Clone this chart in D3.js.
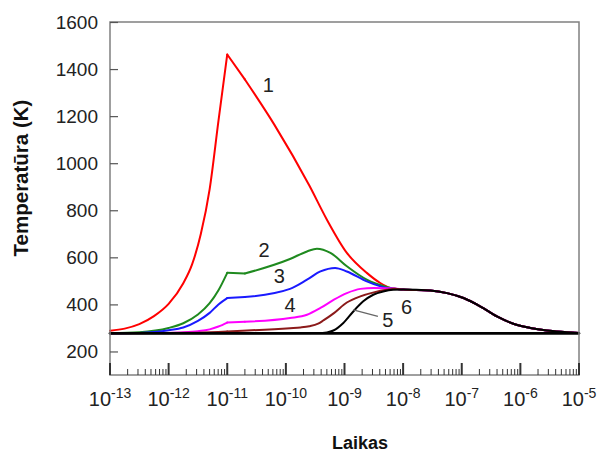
<!DOCTYPE html>
<html>
<head>
<meta charset="utf-8">
<script src="https://cdn.jsdelivr.net/npm/d3@7"></script>
<style>
  html, body { margin: 0; padding: 0; background: #fff; }
  svg { display: block; font-family: 'Liberation Sans', Arial, sans-serif; }
</style>
</head>
<body>
<div id="chart"></div>
<script>
// Points are [log10(time, s), temperature K]
const T0 = 277;
const X_DECADES = [-13, -12, -11, -10, -9, -8, -7, -6, -5];
const Y_TICKS = [200, 400, 600, 800, 1000, 1200, 1400, 1600];
const BREAKS = [-11, -10.7]; // sharp corners in curves 1-4

// common cooling tail after ~1e-8 s
const TAIL = [[-8.0, 463], [-7.54, 459], [-7.25, 448], [-6.97, 427], [-6.68, 391],
  [-6.4, 349], [-6.12, 318], [-5.83, 300], [-5.55, 289], [-5.21, 282], [-5.0, 278]];

const curve1 = [[-13, 288], [-12.75, 297], [-12.5, 316], [-12.25, 350], [-12.0, 402],
  [-11.75, 490], [-11.6, 570], [-11.45, 700], [-11.3, 890], [-11.15, 1180], [-11.0, 1462],
  [-10.7, 1356], [-10.2, 1165], [-9.6, 905], [-9.3, 760], [-8.96, 619], [-8.62, 534],
  [-8.39, 491], [-8.22, 470], [-8.1, 465]];
const curve2 = [[-13, 278], [-12.5, 282], [-12.0, 300], [-11.75, 320], [-11.5, 357],
  [-11.3, 405], [-11.15, 460], [-11.0, 534], [-10.7, 531], [-9.93, 593], [-9.64, 625],
  [-9.47, 637], [-9.24, 619], [-8.96, 562], [-8.62, 505], [-8.28, 474], [-8.14, 466]];
const curve3 = [[-13, 277], [-12.5, 279], [-12.0, 290], [-11.75, 302], [-11.5, 330],
  [-11.3, 364], [-11.15, 400], [-11.0, 427], [-10.7, 431], [-9.93, 466], [-9.64, 505],
  [-9.41, 540], [-9.16, 555], [-8.96, 540], [-8.62, 498], [-8.28, 470], [-8.14, 466]];
const curve4 = [[-13, 277], [-12.2, 278], [-11.8, 281], [-11.5, 286], [-11.3, 294],
  [-11.15, 306], [-11.0, 323], [-10.7, 326], [-9.93, 342], [-9.64, 356], [-9.41, 385],
  [-9.18, 420], [-8.96, 448], [-8.73, 466], [-8.5, 470], [-8.14, 468]];
const curve5 = [[-13, 277], [-11.5, 280], [-11.0, 285], [-9.93, 299], [-9.75, 302],
  [-9.6, 307], [-9.45, 318], [-9.36, 332], [-9.18, 363], [-8.96, 408], [-8.73, 434],
  [-8.5, 451], [-8.28, 462], [-8.14, 466]];
const curve6 = [[-13, 277], [-9.45, 278], [-9.3, 281], [-9.19, 289], [-9.02, 321],
  [-8.85, 370], [-8.68, 413], [-8.51, 441], [-8.34, 455], [-8.17, 462]];
const baseline = [[-13, T0], [-5, T0]];

const SERIES = [
  { name: '1', color: '#ff0000', pts: curve1.concat(TAIL), w: 2 },
  { name: '2', color: '#1f8a1f', pts: curve2.concat(TAIL), w: 2 },
  { name: '3', color: '#1a1aff', pts: curve3.concat(TAIL), w: 2 },
  { name: '4', color: '#ff00ff', pts: curve4.concat(TAIL), w: 2 },
  { name: '5', color: '#8b1a1a', pts: curve5.concat(TAIL), w: 2 },
  { name: '6', color: '#000000', pts: curve6.concat(TAIL), w: 2 },
  { name: 'T0', color: '#000000', pts: baseline, w: 2.6 },
];

// curve number labels [text, x-exponent, temperature]
const LABELS = [['1', -10.3, 1334], ['2', -10.37, 632], ['3', -10.11, 519], ['4', -9.93, 399],
  ['5', -8.26, 334], ['6', -7.94, 391]];
const LEADER5 = [[-8.85, 377], [-8.43, 349]];

const W = 599, H = 452;
const m = { top: 22, right: 20, bottom: 77, left: 110 };
const w = W - m.left - m.right;
const h = H - m.top - m.bottom;

const svg = d3.select('#chart').append('svg').attr('width', W).attr('height', H);
const g = svg.append('g').attr('transform', `translate(${m.left},${m.top})`);

const x = d3.scaleLog().domain([1e-13, 1e-5]).range([0, w]);
const y = d3.scaleLinear().domain([100, 1600]).range([h, 0]);
const px = e => x(Math.pow(10, e));

// ---- curves (split at sharp corners) ----
const line = d3.line().x(d => px(d[0])).y(d => y(d[1])).curve(d3.curveMonotoneX);
const curvesG = g.append('g');
SERIES.forEach(s => {
  const segs = [];
  let cur = [];
  s.pts.forEach(p => {
    cur.push(p);
    if (BREAKS.includes(p[0]) && cur.length > 1) { segs.push(cur); cur = [p]; }
  });
  if (cur.length > 1) segs.push(cur);
  segs.forEach(seg => {
    curvesG.append('path').datum(seg)
      .attr('d', line)
      .attr('fill', 'none')
      .attr('stroke', s.color)
      .attr('stroke-width', s.w)
      .attr('stroke-linejoin', 'round')
      .attr('stroke-linecap', 'round');
  });
});

// ---- frame ----
g.append('rect')
  .attr('x', 0).attr('y', 0).attr('width', w).attr('height', h)
  .attr('fill', 'none').attr('stroke', '#808080').attr('stroke-width', 1.5);

// ---- y axis (ticks inside) ----
const yAxis = g.append('g').call(d3.axisLeft(y).tickValues(Y_TICKS).tickFormat(d3.format('d'))
  .tickSizeInner(-8).tickSizeOuter(0).tickPadding(12));
yAxis.select('.domain').remove();
yAxis.selectAll('line').attr('stroke', '#555').attr('stroke-width', 1.2);
yAxis.selectAll('text').style('font-size', '19px').attr('fill', '#222');

// ---- x axis: decade + minor ticks inside ----
const xTicks = g.append('g').attr('transform', `translate(0,${h})`);
X_DECADES.forEach((d, i) => {
  xTicks.append('line').attr('x1', px(d)).attr('x2', px(d)).attr('y1', 0).attr('y2', -12)
    .attr('stroke', '#333').attr('stroke-width', 2);
  if (i < X_DECADES.length - 1) {
    for (let k = 2; k <= 9; k++) {
      const xv = x(k * Math.pow(10, d));
      xTicks.append('line').attr('x1', xv).attr('x2', xv).attr('y1', 0).attr('y2', -6)
        .attr('stroke', '#333').attr('stroke-width', 1);
    }
  }
  const t = xTicks.append('text')
    .attr('x', px(d)).attr('y', 31)
    .attr('text-anchor', 'middle')
    .attr('fill', '#222')
    .style('font-size', '20px');
  t.append('tspan').text('10');
  t.append('tspan').attr('dy', -8).style('font-size', '14px').text(String(d));
});

// ---- curve labels ----
g.selectAll('.clabel').data(LABELS).enter().append('text')
  .attr('x', d => px(d[1])).attr('y', d => y(d[2]))
  .attr('text-anchor', 'middle')
  .attr('dominant-baseline', 'central')
  .attr('fill', '#222')
  .style('font-size', '20px')
  .text(d => d[0]);

// leader for label 5
g.append('line')
  .attr('x1', px(LEADER5[0][0])).attr('y1', y(LEADER5[0][1]))
  .attr('x2', px(LEADER5[1][0])).attr('y2', y(LEADER5[1][1]))
  .attr('stroke', '#666').attr('stroke-width', 1.2);

// ---- axis titles ----
svg.append('text')
  .attr('transform', `translate(28,178) rotate(-90)`)
  .attr('text-anchor', 'middle')
  .attr('fill', '#111')
  .style('font-size', '20.5px').style('font-weight', 'bold')
  .text('Temperatūra (K)');

svg.append('text')
  .attr('x', 360).attr('y', 449)
  .attr('text-anchor', 'middle')
  .attr('fill', '#111')
  .style('font-size', '18px').style('font-weight', 'bold')
  .text('Laikas');
</script>
</body>
</html>
